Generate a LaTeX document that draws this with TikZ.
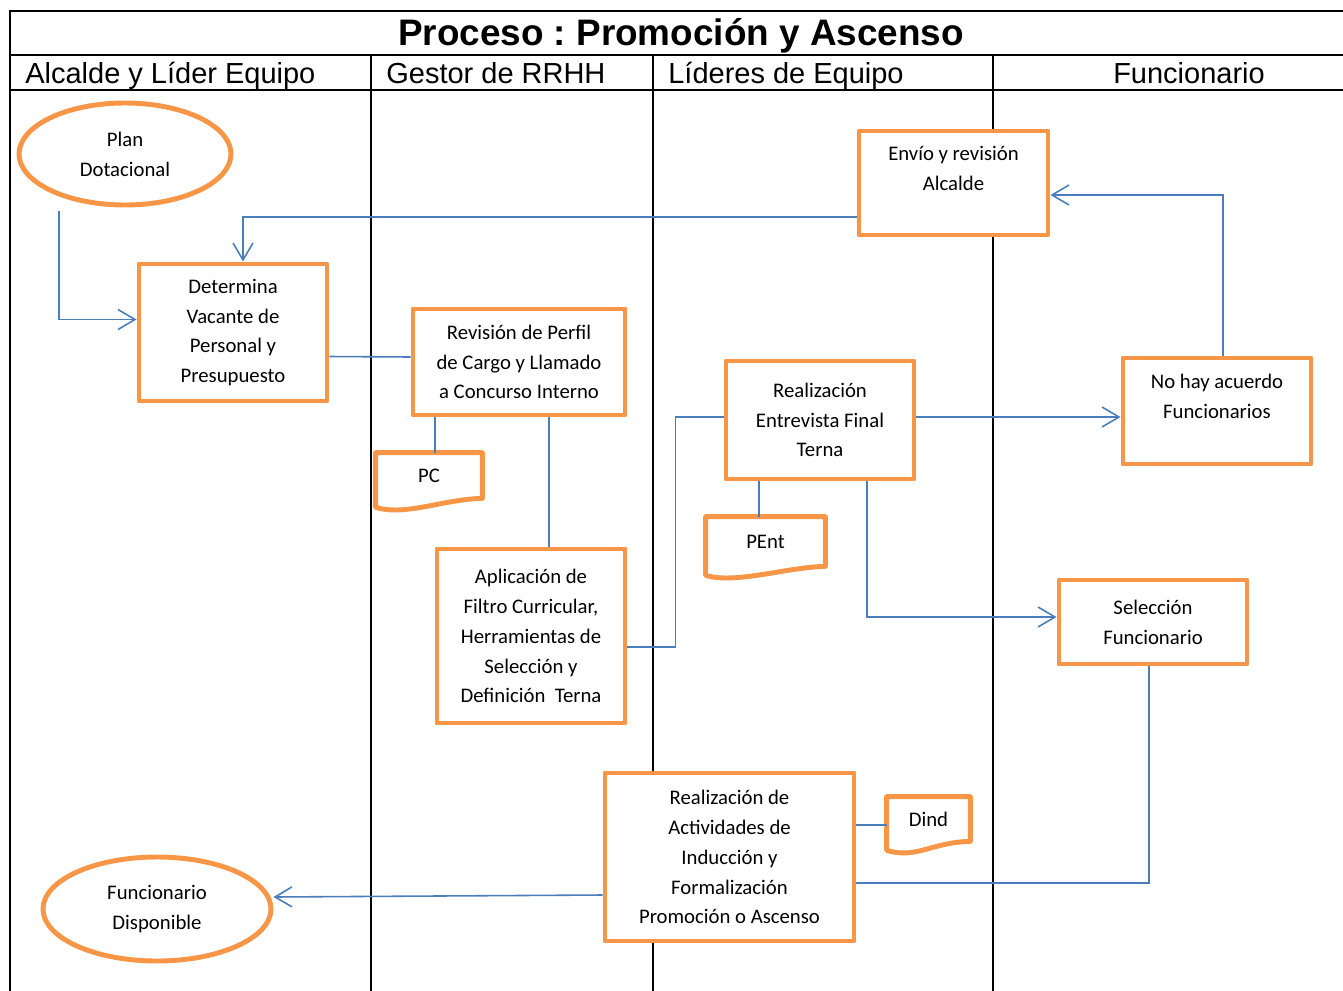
\documentclass[tikz,border=0pt]{standalone}
\usepackage{fontspec}
\setmainfont{Carlito}
\newfontfamily\headfont{Liberation Sans}
\usetikzlibrary{positioning, calc, shapes.geometric, arrows.meta}
\newdimen\pxu \pxu=0.02cm
\definecolor{naranja}{HTML}{F79646}
\definecolor{azul}{HTML}{4A7EBB}
\frenchspacing
% marco de documento con borde inferior ondulado
\newcommand{\documento}[1]{%
  \draw[caja] (#1.north west) -- ($(#1.south west)+(0,9)$)
    .. controls +(30,9) and +(-40,1) .. (#1.south east) -- (#1.north east) -- cycle;}

\begin{document}
\begin{tikzpicture}[x=0.02cm, y=-0.02cm,
    caja/.style={draw=naranja, line width=2.8pt, line join=round},
    proceso/.style={caja, fill=white, rectangle, inner sep=0pt, align=center, font=\fontsize{11.8}{17}\selectfont},
    extremo/.style={caja, fill=white, ellipse, inner sep=0pt, align=center, font=\fontsize{11.8}{17}\selectfont},
    doc/.style={inner sep=0pt, align=center, font=\fontsize{11.8}{17}\selectfont},
    carril/.style={line width=1.1pt},
    cabecera/.style={anchor=base west, inner sep=0pt, font=\headfont\fontsize{16.5}{19}\selectfont},
    enlace/.style={draw=azul, line width=0.9pt},
    flujo/.style={enlace, -{Straight Barb[length=0.34cm, width=0.4cm, line width=0.9pt]}}]
  \useasboundingbox (0,0) rectangle (1343,991);

  % Encabezado y carriles
  \draw[carril] (1343,11) -- (10,11) -- (10,991);
  \draw[carril] (10,55) -- (1343,55);
  \draw[carril] (10,90) -- (1343,90);
  \foreach \x in {371,653,993}
    \draw[carril] (\x,55) -- (\x,991);
  \node[anchor=base, inner sep=0pt, font=\headfont\bfseries\fontsize{21}{24}\selectfont] (titulo) at (681,45) {Proceso : Promoción y Ascenso};
  \node[cabecera] (alcalde) at (25,83) {Alcalde y Líder Equipo};
  \node[cabecera] (gestor) at (386,83) {Gestor de RRHH};
  \node[cabecera] (lideres) at (668,83) {Líderes de Equipo};
  \node[cabecera, anchor=base] (funcionario) at (1189,83) {Funcionario};

  % Inicio y fin
  \node[extremo, minimum width=212\pxu, minimum height=102\pxu] (plan) at (125,154) {Plan\\Dotacional};
  \node[extremo, minimum width=228\pxu, minimum height=104\pxu] (disponible) at (157,909) {Funcionario\\Disponible};

  % Actividades
  \node[proceso, minimum width=188\pxu, minimum height=137\pxu] (determina) at (233,332.5) {Determina\\Vacante de\\Personal y\\Presupuesto};
  \node[proceso, minimum width=212\pxu, minimum height=106\pxu] (revision) at (519,362) {Revisión de Perfil\\de Cargo y Llamado\\a Concurso Interno};
  \node[proceso, minimum width=188\pxu, minimum height=174\pxu] (aplicacion) at (531,636) {Aplicación de\\Filtro Curricular,\\Herramientas de\\Selección y\\Definición\ \ Terna};
  \node[proceso, minimum width=189\pxu, minimum height=104\pxu] (envio) at (953.5,183) {Envío y revisión\\Alcalde\\\mbox{}};
  \node[proceso, minimum width=188\pxu, minimum height=118\pxu] (entrevista) at (820,420) {Realización\\Entrevista Final\\Terna};
  \node[proceso, minimum width=188\pxu, minimum height=106\pxu] (noacuerdo) at (1217,411) {No hay acuerdo\\Funcionarios\\\mbox{}};
  \node[proceso, minimum width=188\pxu, minimum height=84\pxu] (seleccion) at (1153,622) {Selección\\Funcionario};
  \node[proceso, minimum width=249\pxu, minimum height=168\pxu] (actividades) at (729.5,857) {Realización de\\Actividades de\\Inducción y\\Formalización\\Promoción o Ascenso};

  % Documentos
  \node[doc, minimum width=106\pxu, minimum height=45\pxu] (pc) at (429,475.5) {PC};
  \node[doc, minimum width=119\pxu, minimum height=49\pxu] (pent) at (765.5,541.5) {PEnt};
  \node[doc, minimum width=83\pxu, minimum height=44\pxu] (dind) at (928.5,819) {Dind};
  \documento{pc}
  \documento{pent}
  \documento{dind}

  % Conexiones
  \draw[flujo] ($(plan.south)+(-66,4)$) |- ($(determina.west)+(0,-13)$);
  \draw[flujo] ($(envio.west)+(0,34)$) -| ($(determina.north)+(10,0)$);
  \draw[enlace] ($(determina.east)+(0,24)$) -- ($(revision.west)+(0,-5)$);
  \draw[enlace] ($(revision.south)+(-84,0)$) -- ($(pc.north)+(6,0)$);
  \draw[enlace] ($(revision.south)+(30,0)$) -- ($(aplicacion.north)+(18,0)$);
  \draw[enlace] ($(aplicacion.east)+(0,11)$) -- ++(48,0) |- ($(entrevista.west)+(0,-3)$);
  \draw[enlace] ($(entrevista.south)+(-61,0)$) -- ($(pent.north)+(-6.5,0)$);
  \draw[flujo] ($(entrevista.east)+(0,-3)$) -- ($(noacuerdo.west)+(0,6)$);
  \draw[flujo] ($(entrevista.south)+(47,0)$) |- ($(seleccion.west)+(0,-5)$);
  \draw[flujo] ($(noacuerdo.north)+(6,0)$) |- ($(envio.east)+(0,12)$);
  \draw[enlace] ($(seleccion.south)+(-4,0)$) |- ($(actividades.east)+(0,26)$);
  \draw[enlace] ($(actividades.east)+(0,-32)$) -- ($(dind.west)+(0,6)$);
  \draw[flujo] ($(actividades.west)+(0,38)$) -- ($(disponible.east)+(0,-12)$);
\end{tikzpicture}
\end{document}
